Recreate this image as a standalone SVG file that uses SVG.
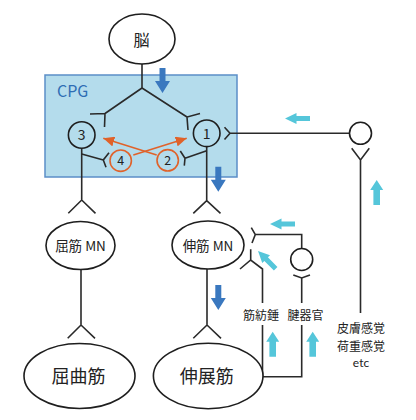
<svg xmlns="http://www.w3.org/2000/svg" width="416" height="420" viewBox="0 0 416 420">
<style>
.ln{fill:none;stroke:#2a2a2a;stroke-width:1.6;stroke-linejoin:miter}
.nd{fill:none;stroke:#1e1e1e;stroke-width:1.6}
.wt{fill:#fff;stroke:#1e1e1e;stroke-width:1.6}
.or{fill:none;stroke:#e0622a;stroke-width:1.6}
.t{font-family:"Noto Sans CJK JP","Noto Sans",sans-serif;fill:#222;text-anchor:middle}
.blue{fill:#3a78bf}
.cyan{fill:#55c6da}
</style>
<defs>
<path id="darr" d="M-3,0 h6 v13 h4.5 l-7.5,12 l-7.5,-12 h4.5 z"/>
<path id="uarr" d="M0,0 l6.5,10 h-3.2 v15 h-6.6 v-15 h-3.2 z"/>
<path id="larr" d="M0,0 l11.5,-5.5 v3 h13.5 v5 h-13.5 v3 z"/>
<marker id="oh" markerUnits="userSpaceOnUse" markerWidth="12" markerHeight="10" refX="11" refY="5" orient="auto">
<path d="M0,0 L11,5 L0,10 z" fill="#e0622a"/>
</marker>
</defs>
<g id="cpg">
<rect x="45" y="75" width="192" height="102" fill="#b4dcec" stroke="#5b8ec8" stroke-width="1.5"/>
<text x="57" y="97" style="font-family:'Noto Sans CJK JP','Noto Sans',sans-serif;font-size:16px;fill:#2e6db4">CPG</text>
</g>
<g id="connectors">
<path class="ln" d="M142,64 V88 M142,88 L105,113.5 M90,114 L105,113.5 L104.5,127"/>
<path class="ln" d="M142,88 L187,117 M200,113.5 L187,117 L188,130"/>
<path class="ln" d="M81.7,148.5 V200 M68.3,213.3 L81.7,200 L95.5,213.3"/>
<path class="ln" d="M81.7,154 L103.3,160 M109,152.7 L103.3,160 L106,167.3"/>
<path class="ln" d="M206.7,146.7 V200.7 M193.3,213.3 L206.7,200.7 L220.5,213.3"/>
<path class="ln" d="M206.7,150.7 L185,158.3 M180.3,151 L185,158.3 L184.3,165.7"/>
<path class="ln" d="M349.5,133.3 H230 M224.5,127.3 L230,133.3 L224.5,139.5"/>
<path class="ln" d="M351.7,148.3 L360.5,160 L369.3,148.3 M360.5,160 V313"/>
<path class="ln" d="M81,269.5 V325 M67.7,338.3 L81,325 L95,338.3"/>
<path class="ln" d="M207,269 V325 M193.3,338.3 L207,325 L221,338.3"/>
<path class="ln" d="M251.3,227.7 L255.3,234.5 L252,243 M255.3,234.5 H301.7 V248.5"/>
<path class="ln" d="M250.7,249.3 V260 M240,269 L250.7,260 L262.5,269 V303"/>
<path class="ln" d="M293.3,275 L301.7,278 L310,275 M301.7,278 V303"/>
<path class="ln" d="M262.5,325 V376.7 H301.7 V325"/>
<line class="or" x1="133.3" y1="155" x2="186.7" y2="138.3" marker-end="url(#oh)"/>
<line class="or" x1="156.7" y1="155" x2="103.3" y2="138.3" marker-end="url(#oh)"/>
</g>
<g id="brain"><ellipse class="wt" cx="142" cy="39" rx="33" ry="25"/><text class="t" x="141.5" y="45.5" font-size="16">脳</text></g>
<g id="n3"><circle class="nd" cx="81.7" cy="135" r="13.3"/><text class="t" x="81.7" y="140" font-size="14">3</text></g>
<g id="n1"><circle class="nd" cx="206.7" cy="133.3" r="13.3"/><text class="t" x="206.7" y="138.5" font-size="14">1</text></g>
<g id="n4"><circle class="or" cx="120.7" cy="160.7" r="10.7"/><text class="t" x="120.7" y="165.3" font-size="12.5">4</text></g>
<g id="n2"><circle class="or" cx="167.7" cy="160.3" r="10.7"/><text class="t" x="167.7" y="165" font-size="12.5">2</text></g>
<g id="sensory"><circle class="wt" cx="360.5" cy="133.3" r="11"/></g>
<g id="tendon"><circle class="wt" cx="301.7" cy="259.5" r="11"/></g>
<g id="flexMN"><ellipse class="wt" cx="80.5" cy="245.5" rx="34.5" ry="24"/><text class="t" x="80.5" y="250.5" font-size="13.5">屈筋 MN</text></g>
<g id="extMN"><ellipse class="wt" cx="208" cy="245" rx="36" ry="24"/><text class="t" x="208" y="250.5" font-size="13.5">伸筋 MN</text></g>
<g id="flexor"><ellipse class="wt" cx="79.5" cy="376" rx="55.5" ry="32.5"/><text class="t" x="78.5" y="382.5" font-size="18">屈曲筋</text></g>
<g id="extensor"><ellipse class="wt" cx="208.2" cy="376" rx="54.8" ry="32.7"/><text class="t" x="206.7" y="382.5" font-size="18">伸展筋</text></g>
<g id="labels">
<text class="t" x="261" y="319.5" font-size="12">筋紡錘</text>
<text class="t" x="305.5" y="319.5" font-size="12">腱器官</text>
<text class="t" x="361" y="332.5" font-size="12">皮膚感覚</text>
<text class="t" x="361" y="350.5" font-size="12">荷重感覚</text>
<text class="t" x="361" y="367" font-size="12" style="font-family:Lato,'Noto Sans',sans-serif">etc</text>
</g>
<g id="arrows">
<use href="#darr" class="blue" x="162.5" y="68"/>
<use href="#darr" class="blue" x="218.3" y="166.7"/>
<use href="#darr" class="blue" x="218.3" y="285"/>
<use href="#larr" class="cyan" x="285" y="118.5"/>
<use href="#larr" class="cyan" x="270" y="224"/>
<use href="#larr" class="cyan" transform="translate(258,251) rotate(45)"/>
<use href="#uarr" class="cyan" x="376.7" y="180"/>
<use href="#uarr" class="cyan" x="272.7" y="331.7"/>
<use href="#uarr" class="cyan" x="312.7" y="331.7"/>
</g>
</svg>
